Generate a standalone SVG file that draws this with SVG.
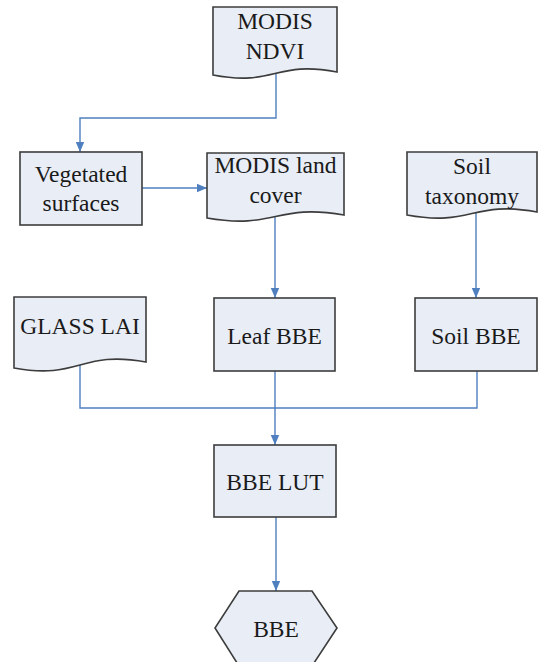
<svg xmlns="http://www.w3.org/2000/svg" width="543" height="662" viewBox="0 0 543 662">
<style>
.n{fill:#e8edf6;stroke:#3c3c3c;stroke-width:1.6}
.t{font-family:'Liberation Serif','DejaVu Serif',serif;font-size:23.5px;fill:#1a1a1a;text-anchor:middle}
.c{fill:none;stroke:#4f7fbf;stroke-width:1.4}
</style>
<defs>
<marker id="a" markerUnits="userSpaceOnUse" markerWidth="10" markerHeight="10" viewBox="0 0 10 10" refX="10" refY="5" orient="auto">
<path d="M0,0.8 L10,5 L0,9.2 Z" fill="#4f7fbf"/>
</marker>
</defs>
<rect width="543" height="662" fill="#ffffff"/>
<g id="connectors">
<path class="c" d="M276,74 V118 H80 V152" marker-end="url(#a)"/>
<path class="c" d="M142,188 H207" marker-end="url(#a)"/>
<path class="c" d="M275,216 V298" marker-end="url(#a)"/>
<path class="c" d="M476,212 V298" marker-end="url(#a)"/>
<path class="c" d="M80,364 V408 H477 V371"/>
<path class="c" d="M275,371 V445" marker-end="url(#a)"/>
<path class="c" d="M276,517 V591" marker-end="url(#a)"/>
</g>
<g id="modis-ndvi">
<path class="n" d="M213,7 H337 V72 C275,60 275,87 213,75 Z"/>
<text class="t" x="275" y="29">MODIS</text>
<text class="t" x="275" y="59">NDVI</text>
</g>
<g id="vegetated-surfaces">
<rect class="n" x="20" y="152" width="122" height="73"/>
<text class="t" x="81" y="182">Vegetated</text>
<text class="t" x="81" y="211">surfaces</text>
</g>
<g id="modis-land-cover">
<path class="n" d="M207,153 H344 V215 C275.5,203 275.5,230 207,218 Z"/>
<text class="t" x="275.5" y="173">MODIS land</text>
<text class="t" x="275.5" y="203">cover</text>
</g>
<g id="soil-taxonomy">
<path class="n" d="M407,152 H537 V212 C472,200 472,227 407,215 Z"/>
<text class="t" x="472" y="174">Soil</text>
<text class="t" x="472" y="204">taxonomy</text>
</g>
<g id="glass-lai">
<path class="n" d="M14,297 H146 V362 C80,350 80,380 14,368 Z"/>
<text class="t" x="80" y="334">GLASS LAI</text>
</g>
<g id="leaf-bbe">
<rect class="n" x="214" y="298" width="121" height="73"/>
<text class="t" x="274.5" y="344">Leaf BBE</text>
</g>
<g id="soil-bbe">
<rect class="n" x="415" y="298" width="122" height="73"/>
<text class="t" x="476" y="344">Soil BBE</text>
</g>
<g id="bbe-lut">
<rect class="n" x="214" y="445" width="122" height="72"/>
<text class="t" x="275" y="490">BBE LUT</text>
</g>
<g id="bbe">
<path class="n" d="M239,591 H312 L337,628 L312,666 H239 L215,628 Z"/>
<text class="t" x="276" y="637">BBE</text>
</g>
</svg>
